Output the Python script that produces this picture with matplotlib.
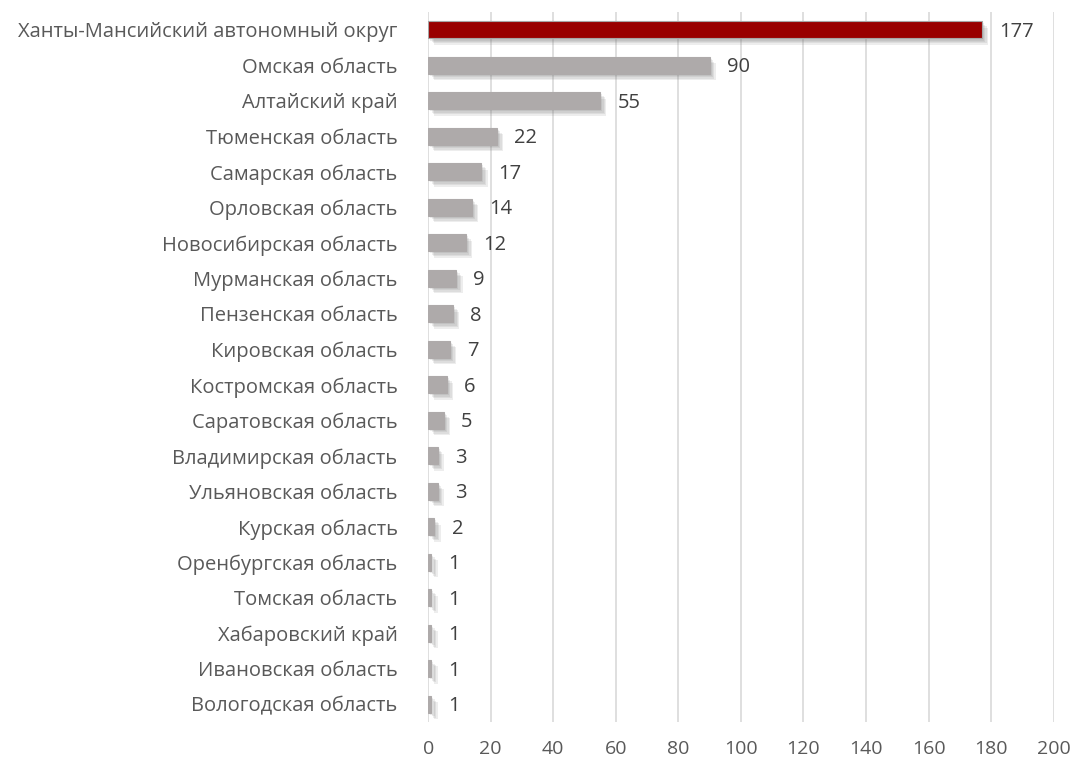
import matplotlib.pyplot as plt
import matplotlib.patheffects as pe

regions = ["Ханты-Мансийский автономный округ", "Омская область", "Алтайский край",
           "Тюменская область", "Самарская область", "Орловская область",
           "Новосибирская область", "Мурманская область", "Пензенская область",
           "Кировская область", "Костромская область", "Саратовская область",
           "Владимирская область", "Ульяновская область", "Курская область",
           "Оренбургская область", "Томская область", "Хабаровский край",
           "Ивановская область", "Вологодская область"]
values = [177, 90, 55, 22, 17, 14, 12, 9, 8, 7, 6, 5, 3, 3, 2, 1, 1, 1, 1, 1]
x_ticks = [0, 20, 40, 60, 80, 100, 120, 140, 160, 180, 200]

plt.rcParams['font.family'] = ['Open Sans', 'DejaVu Sans']

fig = plt.figure(figsize=(10.73, 7.6), dpi=100)
ax = fig.add_axes([0.399, 0.05, 0.583, 0.934])

colors = ['#990000'] + ['#aeaaaa'] * (len(values) - 1)
edges = ['#a6a6a6'] + ['#aeaaaa'] * (len(values) - 1)
ypos = list(range(len(values)))
bars = ax.barh(ypos, values, height=0.48, color=colors, edgecolor=edges,
               linewidth=0.8, zorder=3)
# soft shadow to the lower right, built from a few faint layers
shadow = [pe.SimplePatchShadow(offset=(d, -d), shadow_rgbFace='#707070', alpha=0.12)
          for d in (4.5, 3.5, 2.5, 1.5)]
for b in bars:
    b.set_path_effects(shadow + [pe.Normal()])

for y, v in zip(ypos, values):
    ax.text(v + 5.5, y + 0.05, str(v), va='center', ha='left', fontsize=14.5, color='#404040')

ax.set_xlim(0, 200)
ax.set_ylim(len(values) - 0.5, -0.5)
ax.set_xticks(x_ticks)
ax.set_yticks(ypos)
ax.set_yticklabels(regions)
ax.grid(axis='x', color='#d9d9d9', linewidth=1.2, zorder=0)
for s in ax.spines.values():
    s.set_visible(False)
ax.tick_params(axis='y', length=0, labelsize=14.5, labelcolor='#595959', pad=22)
ax.tick_params(axis='x', length=0, labelsize=14, labelcolor='#595959', pad=13)

fig.savefig('out.png', dpi=100)
